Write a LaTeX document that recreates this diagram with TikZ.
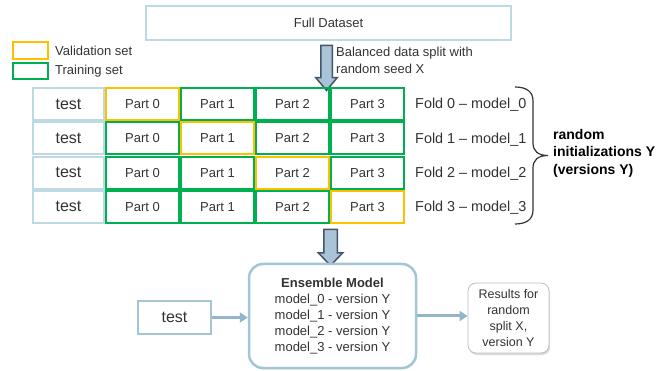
\documentclass[tikz,border=0pt]{standalone}
\usepackage{fontspec}
\setmainfont{Liberation Sans}
\usetikzlibrary{positioning, shapes.arrows, arrows.meta, shadows}

\definecolor{trainGreen}{HTML}{00B050}
\definecolor{validOrange}{HTML}{FFC000}
\definecolor{paleBlue}{HTML}{BDD9E3}
\definecolor{ensBlue}{HTML}{A3C6D6}
\definecolor{arrowFill}{HTML}{A9C4D7}
\definecolor{arrowEdge}{HTML}{44546A}
\definecolor{linkBlue}{HTML}{93B6CB}
\definecolor{txt}{HTML}{333333}

\tikzset{
	every block/.style={draw, line width=2pt, minimum width=73pt,
		minimum height=32pt, inner sep=0pt, text=txt,
		font=\fontsize{13}{16}\selectfont},
	block train/.style={draw=trainGreen},
	block valid/.style={draw=validOrange},
	block test/.style={draw=paleBlue, minimum width=71pt,
		font=\fontsize{16}{19}\selectfont},
	block 0-0/.style={block valid},
	block 1-1/.style={block valid},
	block 2-2/.style={block valid},
	block 3-3/.style={block valid},
	plain text/.style={inner sep=0pt, text=txt, align=left,
		font=\fontsize{13}{17}\selectfont},
	big arrow/.style={single arrow, draw=arrowEdge, fill=arrowFill,
		line width=1.5pt, rotate=-90, inner xsep=0pt},
	link/.style={draw=linkBlue, line width=3pt,
		-{Triangle[length=8pt, width=10pt]}}
}

\begin{document}
\begin{tikzpicture}[x=1pt, y=-1pt]

		\useasboundingbox (0,0) rectangle (672,371);

		% Full dataset
		\node [draw=paleBlue, line width=2pt, minimum width=365pt,
			minimum height=34pt, text=txt, font=\fontsize{13}{16}\selectfont]
			(full) at (328.5,23) {Full Dataset};

		% Legend
		\node [draw=validOrange, line width=2pt, minimum width=35pt,
			minimum height=17pt, inner sep=0pt] (leg-valid) at (30.5,50.5) {};
		\node [draw=trainGreen, line width=2pt, minimum width=35pt,
			minimum height=16pt, inner sep=0pt] (leg-train) at (30.5,71) {};
		\node [plain text, right=6pt of leg-valid] (txt-valid) {Validation set};
		\node [plain text, right=6pt of leg-train] (txt-train) {Training set};

		% Split
		\node [big arrow, inner ysep=5pt, minimum height=45pt,
			single arrow head extend=5pt, single arrow tip angle=80]
			(split) at (326.5,64.5) {};
		\node [plain text, anchor=west] (split-txt) at (336,60.5) {
			Balanced data split with\\random seed X
		};

		% Folds
		\foreach \r in {0,...,3} {
			\node [every block/.try, block test/.try] (test-\r)
				at (68.5, {104+34.3*\r}) {test};
			\foreach \c in {0,...,3}
				\node [every block/.try, block train/.try, block \r-\c/.try]
					(part-\r-\c) at ({142.5+75*\c}, {104+34.3*\r}) {Part \c};
			\node [plain text, anchor=west, font=\fontsize{14.4}{17}\selectfont]
				(fold-\r) at (415, {105+34.3*\r}) {Fold \r\ -- model\_\r};
		}

		% Brace
		\draw [line width=1.2pt, color=txt] (515,87)
			.. controls (527,87) and (533,92) .. (533,101) -- (533,143)
			.. controls (533,151) and (538,155.5) .. (548,155.5)
			.. controls (538,155.5) and (533,160) .. (533,168) -- (533,210)
			.. controls (533,219) and (527,224) .. (515,224);
		\node [plain text, anchor=west, text=black,
			font=\bfseries\fontsize{14}{17.5}\selectfont] (versions)
			at (553,153) {random\\initializations Y\\(versions Y)};

		% Ensemble
		\node [big arrow, inner ysep=6pt, minimum height=36pt,
			single arrow head extend=5.5pt, single arrow tip angle=88]
			(merge) at (330.5,244) {};
		\node [draw=ensBlue, line width=2.5pt, rounded corners=14pt,
			minimum width=167pt, minimum height=104pt, fill=white,
			drop shadow={opacity=0.15, shadow xshift=1pt, shadow yshift=-1.5pt},
			align=center, text=txt, font=\fontsize{13}{15.8}\selectfont]
			(ens) at (332.5,316) {
			\textbf{Ensemble Model}\\
			model\_0 - version Y\\
			model\_1 - version Y\\
			model\_2 - version Y\\
			model\_3 - version Y
		};

		% Test input
		\node [draw=ensBlue, line width=2pt, minimum width=73pt,
			minimum height=33pt, text=txt, font=\fontsize{16}{19}\selectfont]
			(test-in) at (174.5,317.5) {test};

		% Results
		\node [draw=black!25, line width=0.8pt, rounded corners=8pt,
			minimum width=81pt, minimum height=70pt, fill=white,
			drop shadow={opacity=0.3, shadow xshift=1pt, shadow yshift=-2pt},
			align=center, text=txt, inner sep=0pt,
			font=\fontsize{12.5}{16}\selectfont]
			(results) at (508.5,318) {
			Results for\\random\\split X,\\version Y
		};

		\draw [link] (test-in.east) -- (test-in.east -| ens.west);
		\draw [link] (ens.east) -- (ens.east -| results.west);

	\end{tikzpicture}
\end{document}
